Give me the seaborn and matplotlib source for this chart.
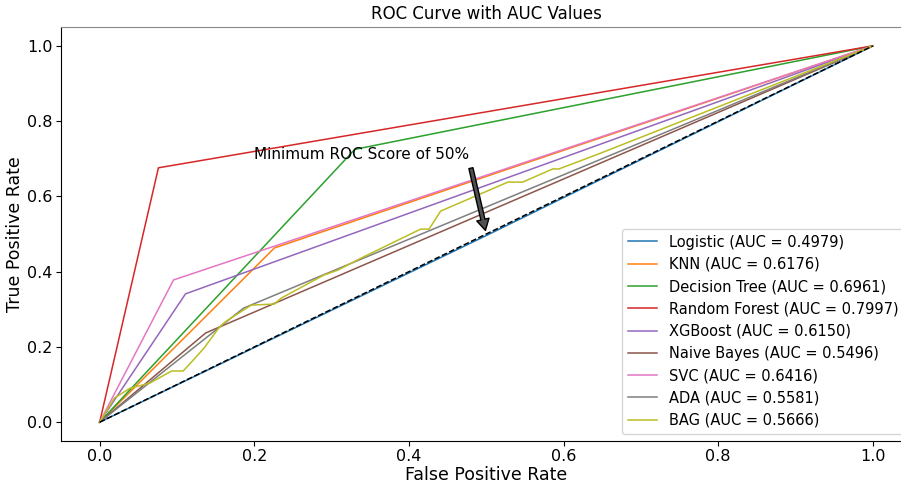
import numpy as np
import matplotlib
matplotlib.use("Agg")
import matplotlib.pyplot as plt
import seaborn as sns

# ROC points
models = ["Logistic", "KNN", "Decision Tree", "Random Forest", "XGBoost",
          "Naive Bayes", "SVC", "ADA", "BAG"]
auc_values = [0.4979, 0.6176, 0.6961, 0.7997, 0.6150, 0.5496, 0.6416, 0.5581, 0.5666]

fpr_logistic = [0.0, 0.5, 1.0]
tpr_logistic = [0.0, 0.496, 1.0]
fpr_knn = [0.0, 0.226, 1.0]
tpr_knn = [0.0, 0.463, 1.0]
fpr_tree = [0.0, 0.33, 1.0]
tpr_tree = [0.0, 0.725, 1.0]
fpr_forest = [0.0, 0.076, 1.0]
tpr_forest = [0.0, 0.676, 1.0]
fpr_xgb = [0.0, 0.111, 1.0]
tpr_xgb = [0.0, 0.341, 1.0]
fpr_nb = [0.0, 0.137, 1.0]
tpr_nb = [0.0, 0.237, 1.0]
fpr_svc = [0.0, 0.0955, 1.0]
tpr_svc = [0.0, 0.378, 1.0]
fpr_ada = [0.0, 0.186, 1.0]
tpr_ada = [0.0, 0.303, 1.0]
fpr_bag = [0.0, 0.019, 0.039, 0.065, 0.093, 0.108, 0.121, 0.135, 0.155, 0.164,
           0.196, 0.226, 0.235, 0.290, 0.308, 0.338, 0.415, 0.426, 0.441, 0.528,
           0.547, 0.586, 0.594, 0.648, 1.0]
tpr_bag = [0.0, 0.064, 0.090, 0.104, 0.136, 0.136, 0.165, 0.197, 0.253, 0.269,
           0.311, 0.314, 0.330, 0.391, 0.404, 0.436, 0.513, 0.513, 0.561, 0.638,
           0.638, 0.673, 0.673, 0.715, 1.0]

fprs = [fpr_logistic, fpr_knn, fpr_tree, fpr_forest, fpr_xgb, fpr_nb, fpr_svc, fpr_ada, fpr_bag]
tprs = [tpr_logistic, tpr_knn, tpr_tree, tpr_forest, tpr_xgb, tpr_nb, tpr_svc, tpr_ada, tpr_bag]

colors = sns.color_palette("tab10")

fig = plt.figure(figsize=(9.01, 4.84), dpi=100)
ax = fig.add_axes([0.0677, 0.0888, 0.944, 0.8553])

for i, name in enumerate(models):
    sns.lineplot(x=fprs[i], y=tprs[i], sort=False, estimator=None, color=colors[i],
                 linewidth=1.1, label=f"{name} (AUC = {auc_values[i]:.4f})", ax=ax)

ax.plot([0, 1], [0, 1], "k--", linewidth=1.1)

ax.annotate("Minimum ROC Score of 50%", xy=(0.5, 0.5), xytext=(0.2, 0.7),
            fontsize=11,
            arrowprops=dict(facecolor="#505050", edgecolor="black", shrink=0.05,
                            width=3, headwidth=9, headlength=8))

ax.set_xlim(-0.05, 1.05)
ax.set_ylim(-0.05, 1.05)
ax.set_title("ROC Curve with AUC Values", fontsize=12)
ax.set_xlabel("False Positive Rate", fontsize=12.5, labelpad=1.5)
ax.set_ylabel("True Positive Rate", fontsize=12.5, labelpad=2)
ax.tick_params(labelsize=11.5, pad=2.5)
ax.spines["top"].set_color("#888888")
ax.legend(loc="lower right", fontsize=10.5)

fig.savefig("out.png", dpi=100)
